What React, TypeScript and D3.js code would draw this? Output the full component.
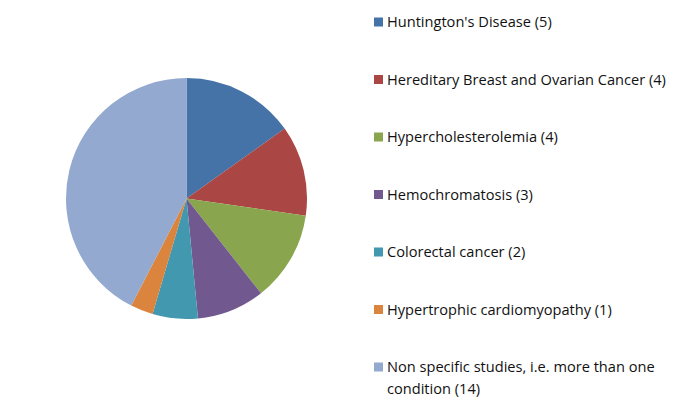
import React from "react";
import * as d3 from "d3";

const labels = [
  "Huntington's Disease (5)",
  "Hereditary Breast and Ovarian Cancer (4)",
  "Hypercholesterolemia (4)",
  "Hemochromatosis (3)",
  "Colorectal cancer (2)",
  "Hypertrophic cardiomyopathy (1)",
  "Non specific studies, i.e. more than one condition (14)",
];
const values = [5, 4, 4, 3, 2, 1, 14];
const colors = ["#4572A7", "#AA4643", "#89A54E", "#71588F", "#4198AF", "#DB843D", "#93A9CF"];

// legend text wrapped like the original
const legendLines = [
  [labels[0]],
  [labels[1]],
  [labels[2]],
  [labels[3]],
  [labels[4]],
  [labels[5]],
  ["Non specific studies, i.e. more than one", "condition (14)"],
];

export default function App() {
  const width = 685, height = 410;
  const cx = 186.5, cy = 198.5, r = 120.5;

  const pie = d3.pie<number>().sort(null).value((d) => d);
  const arc = d3.arc<d3.PieArcDatum<number>>().innerRadius(0).outerRadius(r);
  const arcs = pie(values);

  const legendY = d3.scalePoint<number>().domain(d3.range(labels.length)).range([22, 367]);

  return (
    <svg width={width} height={height} style={{ position: "absolute", left: 0, top: 0, background: "#fff" }}>
      <g transform={`translate(${cx},${cy})`}>
        {arcs.map((a, i) => (
          <path key={i} d={arc(a) || ""} fill={colors[i]} />
        ))}
      </g>
      <g fontFamily="'Open Sans', sans-serif" fontSize={14.6} fill="#111">
        {legendLines.map((lines, i) => {
          const y = legendY(i)!;
          return (
            <g key={i}>
              <rect x={374} y={y - 4.5} width={9} height={9} fill={colors[i]} />
              <text x={387} y={y}>
                {lines.map((l, j) => (
                  <tspan key={j} x={387} dy={j === 0 ? "0.35em" : 22}>{l}</tspan>
                ))}
              </text>
            </g>
          );
        })}
      </g>
    </svg>
  );
}
